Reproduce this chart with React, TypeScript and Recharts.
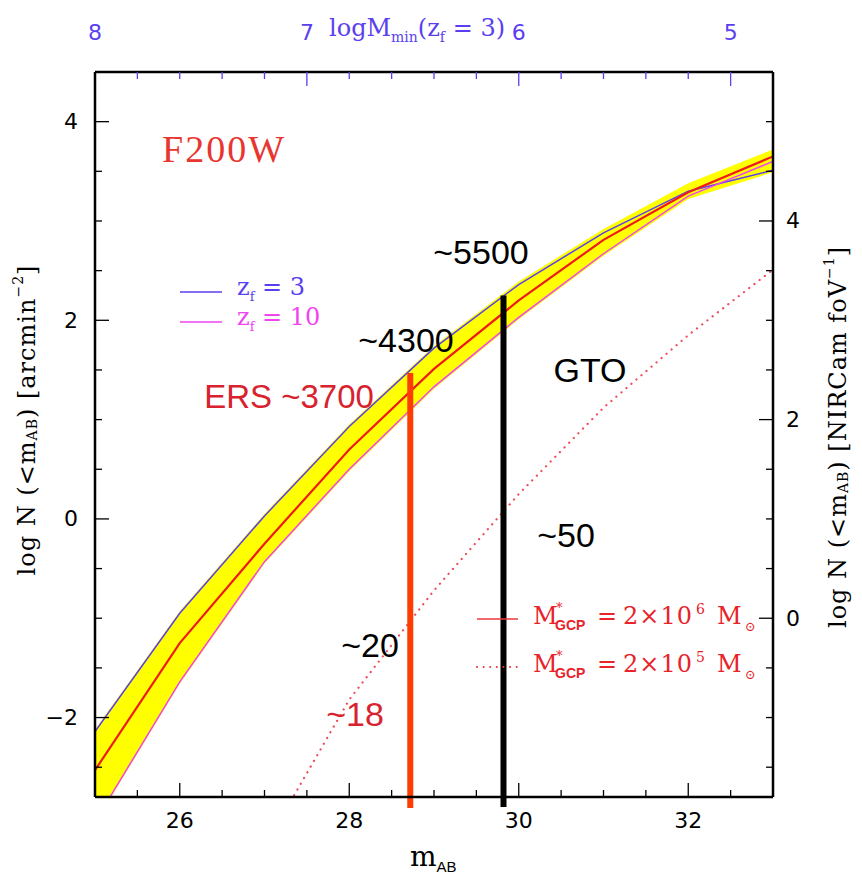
import React from 'react';
import { ComposedChart, Area, Line, XAxis, YAxis, ReferenceLine } from 'recharts';

// magnitudes sampled by the models
const mags = [25, 26, 27, 28, 29, 30, 31, 32, 33];
// log N(<m) [arcmin^-2]
const zf3 = [-2.14, -0.95, 0.03, 0.93, 1.72, 2.36, 2.88, 3.3, 3.51];
const zf10 = [-3.05, -1.64, -0.43, 0.5, 1.33, 2.03, 2.67, 3.25, 3.6];
const gcp6 = [-2.53, -1.25, -0.25, 0.7, 1.51, 2.2, 2.81, 3.29, 3.65];
const gcp5 = [null, null, -3.3, -1.82, -0.72, 0.25, 1.12, 1.85, 2.51];
const bandTop = [-2.12, -0.93, 0.05, 0.95, 1.74, 2.39, 2.92, 3.38, 3.72];
const bandBottom = [-3.07, -1.66, -0.45, 0.48, 1.31, 2.01, 2.65, 3.22, 3.49];

// survey depth limits (ERS, GTO)
const limitMags = [28.72, 29.82];
const limitTops = [1.47, 2.25];
const limitBottoms = [-2.91, -2.9];

// ticks
const bottomTicks = [25.5, 26, 26.5, 27, 27.5, 28, 28.5, 29, 29.5, 30, 30.5, 31, 31.5, 32, 32.5];
const bottomLabels = [26, 28, 30, 32];
const topTicks = [25, 25.5, 26, 26.5, 27, 27.5, 28, 28.5, 29, 29.5, 30, 30.5, 31, 31.5, 32, 32.5];
const topLabelMags = [25, 27.5, 30, 32.5];
const topLabelText = ['8', '7', '6', '5'];
const leftTicks = [-2.5, -2, -1.5, -1, -0.5, 0, 0.5, 1, 1.5, 2, 2.5, 3, 3.5, 4, 4.5];
const leftLabels = [-2, 0, 2, 4];
const rightTicks = [-1.5, -1, -0.5, 0, 0.5, 1, 1.5, 2, 2.5, 3, 3.5, 4, 4.5, 5];
const rightLabels = [0, 2, 4];

const data = mags.map((m, i) => ({
    m,
    zf3: zf3[i],
    zf10: zf10[i],
    gcp6: gcp6[i],
    gcp5: gcp5[i],
    band: [bandBottom[i], bandTop[i]],
}));

const PURPLE = '#5a3ff0';
const MAGENTA = '#f044f0';
const RED = '#ee1c1c';
const TXT_RED = '#d8222e';
const SERIF = '"DejaVu Serif", "Liberation Serif", serif';
const SANS = '"Liberation Sans", Arial, sans-serif';
const TICKFONT = '"DejaVu Sans", sans-serif';

const near = (list: number[], v: number) => list.findIndex((t) => Math.abs(t - v) < 1e-6);

const makeTick = (side: 'bottom' | 'top' | 'left' | 'right', majors: number[], texts: string[] | null, color: string) =>
    (props: any) => {
        const { x, y, payload } = props;
        const v = payload.value;
        const idx = near(majors, v);
        const len = idx >= 0 ? 14 : 7;
        const label = idx >= 0 ? (texts ? texts[idx] : String(v).replace('-', '\u2212')) : null;
        const common = { dominantBaseline: 'central' as const, fontSize: 22, fontFamily: TICKFONT, fill: color };
        let line;
        let txt = null;
        if (side === 'bottom') {
            line = <line x1={x} y1={y} x2={x} y2={y - len} stroke="#000" strokeWidth={1.3} />;
            if (label) txt = <text x={x} y={y + 23} textAnchor="middle" {...common}>{label}</text>;
        } else if (side === 'top') {
            line = <line x1={x} y1={y} x2={x} y2={y + len} stroke={v === 25 ? 'none' : PURPLE} strokeWidth={1.3} />;
            if (label) txt = <text x={x} y={y - 40} textAnchor="middle" {...common}>{label}</text>;
        } else if (side === 'left') {
            line = <line x1={x} y1={y} x2={x + len} y2={y} stroke="#000" strokeWidth={1.3} />;
            if (label) txt = <text x={x - 17} y={y} textAnchor="end" {...common}>{label}</text>;
        } else {
            line = <line x1={x} y1={y} x2={x - len} y2={y} stroke="#000" strokeWidth={1.3} />;
            if (label) txt = <text x={x + 13} y={y} textAnchor="start" {...common}>{label}</text>;
        }
        return (
            <g>
                {line}
                {txt}
            </g>
        );
    };

const axisLine = { stroke: '#000', strokeWidth: 2.5 };

const Annotations = () => (
    <svg width={862} height={880} style={{ position: 'absolute', left: 0, top: 0, pointerEvents: 'none' }}>
        {/* top axis title */}
        <text x={329} y={36} fontFamily={SERIF} fontSize={24} fill={PURPLE}>
            logM<tspan fontSize={14} dy={6}>min</tspan>
            <tspan dy={-6}>(z</tspan>
            <tspan fontSize={14} dy={6}>f</tspan>
            <tspan dy={-6}> = 3)</tspan>
        </text>
        {/* left title */}
        <text x={27} y={420} transform="rotate(-90 27 420)" textAnchor="middle" dominantBaseline="central" fontFamily={SERIF} fontSize={24} letterSpacing={1}>
            log N (&lt;m<tspan fontSize={14} dy={5}>AB</tspan>
            <tspan dy={-5}>) [arcmin</tspan>
            <tspan fontSize={14} dy={-9}>{'\u22122'}</tspan>
            <tspan dy={9}>]</tspan>
        </text>
        {/* right title */}
        <text x={838} y={437} transform="rotate(-90 838 437)" textAnchor="middle" dominantBaseline="central" fontFamily={SERIF} fontSize={24} letterSpacing={1}>
            log N (&lt;m<tspan fontSize={14} dy={5}>AB</tspan>
            <tspan dy={-5}>) [NIRCam foV</tspan>
            <tspan fontSize={14} dy={-9}>{'\u22121'}</tspan>
            <tspan dy={9}>]</tspan>
        </text>
        {/* bottom title */}
        <text x={410} y={866} fontFamily={SERIF} fontSize={28}>
            m<tspan fontSize={15} dy={6} fontFamily={SANS}>AB</tspan>
        </text>

        <text x={224} y={149} textAnchor="middle" dominantBaseline="central" fontFamily='"Liberation Serif", serif' fontSize={38} letterSpacing={2} fill="#e83530">F200W</text>

        {/* z_f legend */}
        <line x1={180} y1={292} x2={222} y2={292} stroke={PURPLE} strokeWidth={1.5} />
        <text x={237} y={295} fontFamily={SERIF} fontSize={24} fill={PURPLE}>
            z<tspan fontSize={13} dy={6}>f</tspan>
            <tspan dy={-6}> = 3</tspan>
        </text>
        <line x1={180} y1={322} x2={222} y2={322} stroke={MAGENTA} strokeWidth={1.5} />
        <text x={237} y={325} fontFamily={SERIF} fontSize={24} fill={MAGENTA}>
            z<tspan fontSize={13} dy={6}>f</tspan>
            <tspan dy={-6}> = 10</tspan>
        </text>

        {/* GCP legend */}
        <line x1={477} y1={619} x2={518} y2={619} stroke="#e8383c" strokeWidth={1.5} />
        <line x1={477} y1={667} x2={520} y2={667} stroke="#e8383c" strokeWidth={2} strokeDasharray="0.1 6.5" strokeLinecap="round" />
        {[0, 1].map((r) => (
            <text key={r} x={533} y={624 + r * 48} fontFamily={SERIF} fontSize={24} fill="#e8232a">
                M
                <tspan x={556} dy={-12} fontSize={13}>*</tspan>
                <tspan x={555} dy={18} fontSize={14} fontWeight={700} fontFamily={SANS}>GCP</tspan>
                <tspan x={597} dy={-6}>=</tspan>
                <tspan x={623} letterSpacing={1}>{'2\u00d710'}</tspan>
                <tspan x={696} dy={-10} fontSize={14}>{r === 0 ? '6' : '5'}</tspan>
                <tspan x={717} dy={10}>M</tspan>
                <tspan x={745} dy={7} fontSize={13}>{'\u2299'}</tspan>
            </text>
        ))}

        {/* survey annotations */}
        <text x={481} y={252} textAnchor="middle" dominantBaseline="central" fontFamily={SANS} fontSize={34}>~5500</text>
        <text x={406} y={340} textAnchor="middle" dominantBaseline="central" fontFamily={SANS} fontSize={34}>~4300</text>
        <text x={289} y={396} textAnchor="middle" dominantBaseline="central" fontFamily={SANS} fontSize={33} fill={TXT_RED}>ERS ~3700</text>
        <text x={590} y={370} textAnchor="middle" dominantBaseline="central" fontFamily={SANS} fontSize={34}>GTO</text>
        <text x={566} y={535} textAnchor="middle" dominantBaseline="central" fontFamily={SANS} fontSize={34}>~50</text>
        <text x={370} y={645} textAnchor="middle" dominantBaseline="central" fontFamily={SANS} fontSize={34}>~20</text>
        <text x={355} y={714} textAnchor="middle" dominantBaseline="central" fontFamily={SANS} fontSize={34} fill={TXT_RED}>~18</text>
    </svg>
);

export default function App() {
    return (
        <div style={{ position: 'absolute', left: 0, top: 0, width: 862, height: 880, background: '#fff' }}>
            <ComposedChart width={862} height={880} data={data} margin={{ top: 42, right: 49, bottom: 53, left: 55 }}>
                <XAxis
                    dataKey="m"
                    type="number"
                    domain={[25, 33]}
                    allowDataOverflow
                    ticks={bottomTicks}
                    interval={0}
                    height={30}
                    tickSize={0}
                    tickMargin={0}
                    axisLine={axisLine}
                    tick={makeTick('bottom', bottomLabels, null, '#000')}
                />
                <XAxis
                    xAxisId="top"
                    orientation="top"
                    dataKey="m"
                    type="number"
                    domain={[25, 33]}
                    allowDataOverflow
                    ticks={topTicks}
                    interval={0}
                    height={30}
                    tickSize={0}
                    tickMargin={0}
                    axisLine={axisLine}
                    tick={makeTick('top', topLabelMags, topLabelText, PURPLE)}
                />
                <YAxis
                    type="number"
                    domain={[-2.8, 4.5]}
                    allowDataOverflow
                    ticks={leftTicks}
                    interval={0}
                    width={40}
                    tickSize={0}
                    tickMargin={0}
                    axisLine={axisLine}
                    tick={makeTick('left', leftLabels, null, '#000')}
                />
                <YAxis
                    yAxisId="right"
                    orientation="right"
                    type="number"
                    domain={[-1.8, 5.5]}
                    allowDataOverflow
                    ticks={rightTicks}
                    interval={0}
                    width={40}
                    tickSize={0}
                    tickMargin={0}
                    axisLine={axisLine}
                    tick={makeTick('right', rightLabels, null, '#000')}
                />
                <Area dataKey="band" type="linear" stroke="none" fill="#ffff00" fillOpacity={1} isAnimationActive={false} />
                <Line dataKey="zf3" type="linear" stroke={PURPLE} strokeWidth={1.5} dot={false} isAnimationActive={false} />
                <Line dataKey="zf10" type="linear" stroke={MAGENTA} strokeWidth={1.5} dot={false} isAnimationActive={false} />
                <Line dataKey="gcp6" type="linear" stroke={RED} strokeWidth={2.2} dot={false} isAnimationActive={false} />
                <Line
                    dataKey="gcp5"
                    type="linear"
                    stroke="#ee4a5a"
                    strokeWidth={2.2}
                    strokeDasharray="0.1 6.5"
                    strokeLinecap="round"
                    dot={false}
                    isAnimationActive={false}
                />
                {limitMags.map((m, i) => (
                    <ReferenceLine
                        key={m}
                        segment={[{ x: m, y: limitTops[i] }, { x: m, y: limitBottoms[i] }]}
                        stroke={i === 0 ? '#ff3d00' : '#000'}
                        strokeWidth={6}
                        ifOverflow="visible"
                    />
                ))}
            </ComposedChart>
            <Annotations />
        </div>
    );
}
